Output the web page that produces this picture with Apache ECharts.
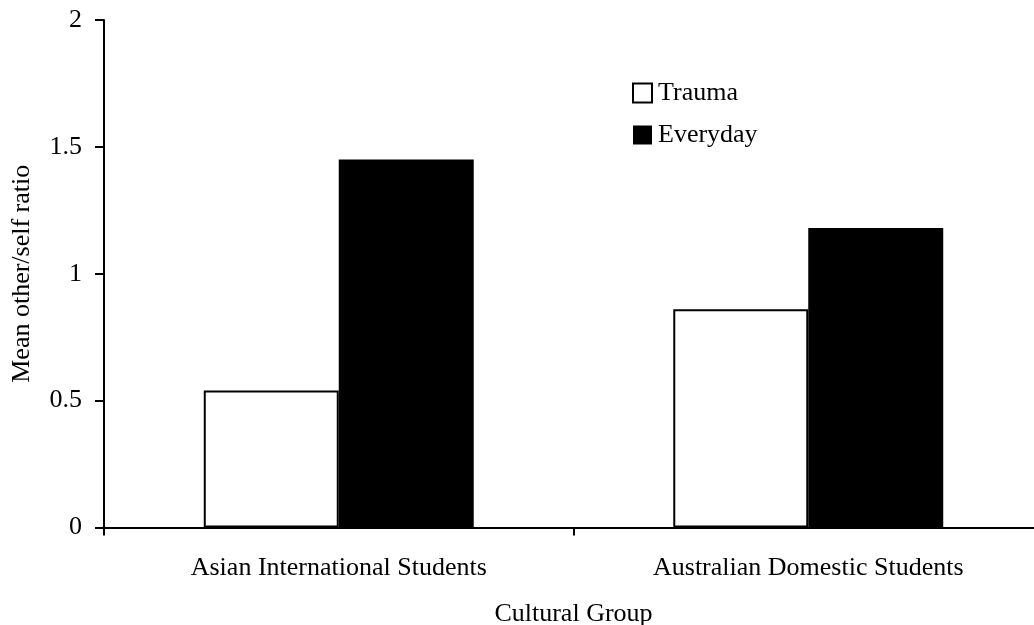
<!DOCTYPE html>
<html>
<head>
<meta charset="utf-8">
<script src="https://cdn.jsdelivr.net/npm/echarts@6/dist/echarts.min.js"></script>
<style>html,body{margin:0;padding:0;background:#fff}#c{width:1034px;height:625px}</style>
</head>
<body>
<div id="c"></div>
<script>
const categories = ['Asian International Students', 'Australian Domestic Students'];
const trauma = [0.54, 0.86];
const everyday = [1.45, 1.18];
const yTicks = [0, 0.5, 1, 1.5, 2];

const font = 'Liberation Serif, Times New Roman, serif';
const chart = echarts.init(document.getElementById('c'));
chart.setOption({
  animation: false,
  backgroundColor: '#fff',
  textStyle: { fontFamily: font, color: '#000' },
  grid: { left: 104, right: -9, top: 20, bottom: 97.5, containLabel: false, outerBoundsMode: 'none' },
  legend: {
    left: 632, top: 80, orient: 'vertical', itemWidth: 19, itemHeight: 19, itemGap: 16, padding: 0,
    icon: 'rect',
    textStyle: { fontFamily: font, fontSize: 26, color: '#000', padding: [0, 0, 0, 1] },
    data: ['Trauma', 'Everyday']
  },
  xAxis: {
    type: 'category', data: categories,
    name: 'Cultural Group', nameLocation: 'middle', nameGap: 74,
    nameTextStyle: { fontFamily: font, fontSize: 26, color: '#000' },
    axisLine: { lineStyle: { color: '#000', width: 2 } },
    axisTick: { show: true, length: 8, lineStyle: { color: '#000', width: 2 } },
    axisLabel: { fontFamily: font, fontSize: 26, color: '#000', margin: 28 }
  },
  yAxis: {
    type: 'value', min: yTicks[0], max: yTicks[yTicks.length - 1], interval: 0.5,
    name: 'Mean other/self ratio', nameLocation: 'middle', nameGap: 69,
    nameTextStyle: { fontFamily: font, fontSize: 26, color: '#000' },
    axisLine: { show: true, lineStyle: { color: '#000', width: 2 } },
    axisTick: { show: true, length: 9, lineStyle: { color: '#000', width: 2 } },
    axisLabel: { fontFamily: font, fontSize: 26, color: '#000', margin: 22 },
    splitLine: { show: false }
  },
  series: [
    { name: 'Trauma', type: 'bar', data: trauma, barGap: '0%', barCategoryGap: '42.5%',
      itemStyle: { color: '#fff', borderColor: '#000', borderWidth: 2 } },
    { name: 'Everyday', type: 'bar', data: everyday, barGap: '0%', barCategoryGap: '42.5%',
      itemStyle: { color: '#000', borderColor: '#000', borderWidth: 0 } }
  ]
});
</script>
</body>
</html>
